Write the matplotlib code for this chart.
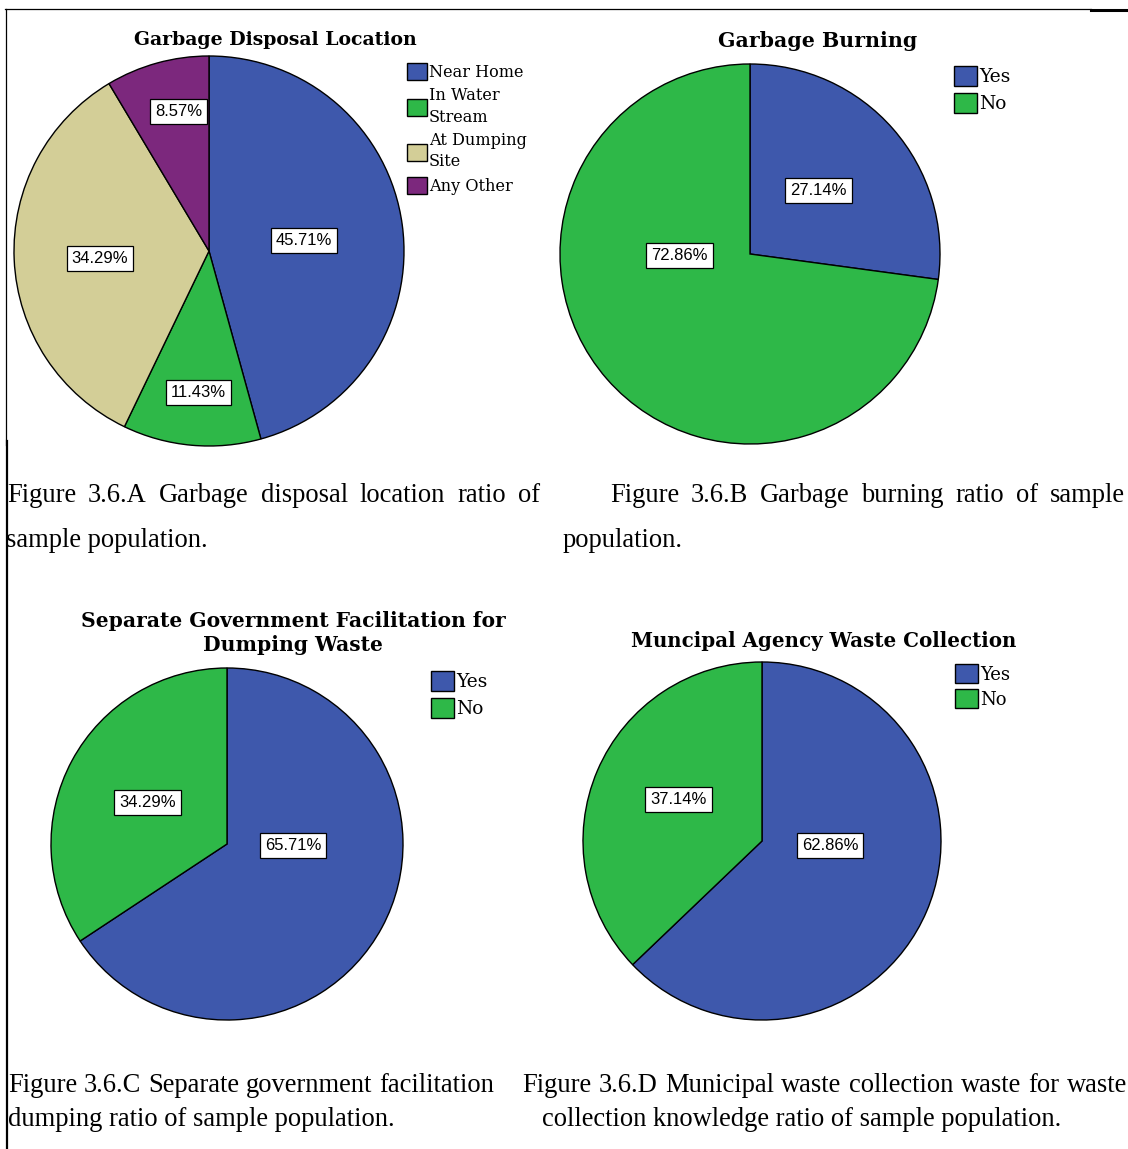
import numpy as np
import matplotlib
matplotlib.use("Agg")
import matplotlib.pyplot as plt
from matplotlib.lines import Line2D

# survey results (percent of sample population)
disposal_labels = ["Near Home", "In Water\nStream", "At Dumping\nSite", "Any Other"]
disposal_pct = [45.71, 11.43, 34.29, 8.57]

yes_no = ["Yes", "No"]
burning_pct = [27.14, 72.86]
facility_pct = [65.71, 34.29]
collection_pct = [62.86, 37.14]

BLUE, GREEN, BEIGE, PURPLE = "#3E58AC", "#2EB848", "#D3CE97", "#7C287D"

W, H = 1128, 1149
fig = plt.figure(figsize=(W / 100, H / 100), dpi=100)
fig.patch.set_facecolor("white")

TITLE = dict(family="DejaVu Serif", weight="bold")
PCT = dict(family="Liberation Sans", size=12)
CAP_SIZE = 19.1
CAP = dict(family="Liberation Serif", size=CAP_SIZE)


def fx(x):
    return x / W


def fy(y):
    return 1 - y / H


def pie_axes(cx, cy, r):
    m = 1.01
    return fig.add_axes([fx(cx - r * m), fy(cy + r * m), 2 * r * m / W, 2 * r * m / H])


def draw_pie(ax, values, colors, label_pos):
    wedges, _ = ax.pie(values, colors=colors, startangle=90, counterclock=False,
                       wedgeprops=dict(edgecolor="black", linewidth=1.0))
    ax.set_xlim(-1.01, 1.01)
    ax.set_ylim(-1.01, 1.01)
    # label anchors given as (fraction of radius, angle in degrees)
    for v, (f, a) in zip(values, label_pos):
        t = np.deg2rad(a)
        ax.text(f * np.cos(t), f * np.sin(t), f"{v:.2f}%", ha="center", va="center",
                bbox=dict(boxstyle="square,pad=0.3", fc="white", ec="black", lw=0.9),
                **PCT)
    return wedges


def legend(handles, labels, x, y, size, spacing, linespacing=1.05):
    leg = fig.legend(handles, labels, loc="upper left", bbox_to_anchor=(fx(x), fy(y)),
                     frameon=False, prop=dict(family="DejaVu Serif", size=size),
                     handlelength=1.25, handleheight=1.25, handletextpad=0.12,
                     labelspacing=spacing, borderpad=0, borderaxespad=0)
    for t in leg.get_texts():
        t.set_linespacing(linespacing)
    return leg


def caption_line(text, x0, x1, y):
    # spread the words so the line runs from x0 to x1
    words = text.split()
    objs = [fig.text(0, fy(y), w, va="baseline", ha="left", **CAP) for w in words]
    r = fig.canvas.get_renderer()
    widths = [o.get_window_extent(r).width for o in objs]
    gap = (x1 - x0 - sum(widths)) / (len(words) - 1)
    x = x0
    for o, w in zip(objs, widths):
        o.set_x(fx(x))
        x += w + gap


# A: garbage disposal location
ax = pie_axes(209, 251, 195)
w = draw_pie(ax, disposal_pct, [BLUE, GREEN, BEIGE, PURPLE],
             [(0.49, 6.6), (0.73, -94.4), (0.56, 184.2), (0.73, 102.2)])
fig.text(fx(275), fy(40), "Garbage Disposal Location", ha="center", va="center",
         size=13.6, **TITLE)
legend(w, disposal_labels, 407, 63, 11.6, 0.4, linespacing=1.32)

# B: garbage burning
ax = pie_axes(750, 254, 190)
w = draw_pie(ax, burning_pct, [BLUE, GREEN], [(0.49, 42.8), (0.37, 181.6)])
fig.text(fx(818), fy(41), "Garbage Burning", ha="center", va="center", size=14.8, **TITLE)
legend(w, yes_no, 954, 66, 13.4, 0.38)

# C: separate government facilitation
ax = pie_axes(227, 844, 176)
w = draw_pie(ax, facility_pct, [BLUE, GREEN], [(0.375, -1.7), (0.51, 152.3)])
fig.text(fx(293), fy(633), "Separate Government Facilitation for\nDumping Waste",
         ha="center", va="center", linespacing=1.2, size=14.6, **TITLE)
legend(w, yes_no, 431, 671, 13.4, 0.38)

# D: municipal agency waste collection
ax = pie_axes(762, 841, 179)
w = draw_pie(ax, collection_pct, [BLUE, GREEN], [(0.38, -3.4), (0.52, 153.7)])
fig.text(fx(824), fy(641), "Muncipal Agency Waste Collection", ha="center", va="center",
         size=14.3, **TITLE)
legend(w, yes_no, 955, 664, 13.0, 0.3)

# captions
caption_line("Figure 3.6.A Garbage disposal location ratio of", 7, 540, 502)
fig.text(fx(6), fy(547), "sample population.", va="baseline", **CAP)
caption_line("Figure 3.6.B Garbage burning ratio of sample", 610, 1125, 502)
fig.text(fx(563), fy(547), "population.", va="baseline", **CAP)
caption_line("Figure 3.6.C Separate government facilitation", 8, 494, 1092)
fig.text(fx(8), fy(1126), "dumping ratio of sample population.", va="baseline", **CAP)
caption_line("Figure 3.6.D Municipal waste collection waste for waste", 522, 1127, 1092)
fig.text(fx(802), fy(1126), "collection knowledge ratio of sample population.",
         va="baseline", ha="center", **CAP)

# page rules
fig.add_artist(Line2D([fx(5), fx(1091)], [fy(9), fy(9)], color="black", lw=0.9))
fig.add_artist(Line2D([fx(1091), 1], [fy(10), fy(10)], color="black", lw=2.2))
fig.add_artist(Line2D([fx(6), fx(6)], [fy(9), fy(445)], color="black", lw=0.9))
fig.add_artist(Line2D([fx(7), fx(7)], [fy(441), 0], color="black", lw=1.6))

fig.savefig("out.png", dpi=100)
